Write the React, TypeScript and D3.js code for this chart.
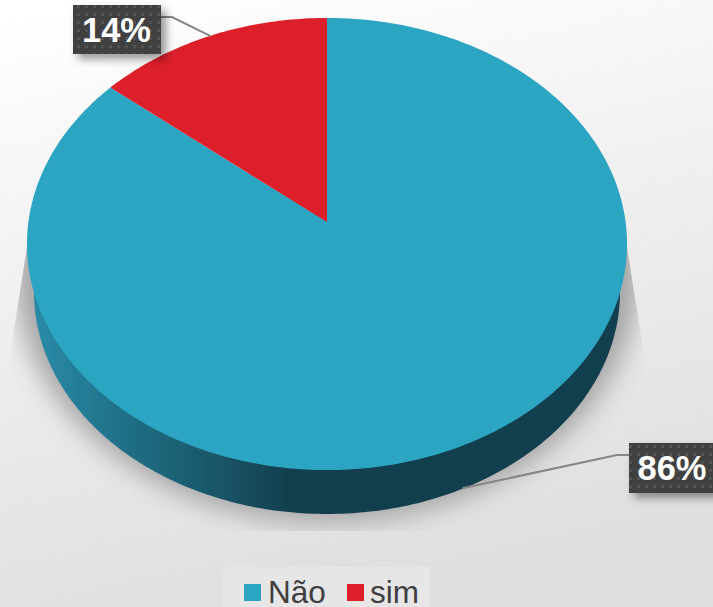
import React from "react";
import * as d3 from "d3";

const categories = ["Não", "sim"];
const values = [86, 14];
const labels = ["86%", "14%"];
const colors = ["#2ca5c3", "#dd1f2a"];

const W = 713, H = 607;
const CX = 327, APEX_Y = 222;
const K = -0.0973, AX = 298.6, AY = 223.9, DEPTH = 44;

function project(angle: number, r = 1): [number, number] {
  const u = Math.sin(angle) * r, v = -Math.cos(angle) * r;
  const d = 1 + K * v;
  return [CX + (AX * u) / d, APEX_Y + (AY * v) / d];
}
const sliceGen = d3.pie<number>().sort(null);
const slices = sliceGen(values);
const line = d3.line();

function slicePath(a0: number, a1: number) {
  const n = Math.max(2, Math.ceil((a1 - a0) * 60));
  const pts: [number, number][] = [[CX, APEX_Y]];
  for (let i = 0; i <= n; i++) pts.push(project(a0 + ((a1 - a0) * i) / n));
  return line(pts) + "Z";
}

const BOTC = 292, BOTRX = 293, BOTRY = 222;
function sidePath() {
  const a: [number, number][] = [];
  for (let i = 0; i <= 180; i++) {
    const t = (i * Math.PI) / 180;
    a.push([CX + BOTRX * Math.cos(t), BOTC + BOTRY * Math.sin(t)]);
  }
  return line(a) + "L" + (CX - BOTRX) + "," + BOTC + "L27,244L627,244L" + (CX + BOTRX) + "," + BOTC + "Z";
}

const mid = (s: d3.PieArcDatum<number>) => (s.startAngle + s.endAngle) / 2;
const nearAnchor = project(mid(slices[0]));
const farAnchor = project(mid(slices[1]));

const font = "'Liberation Sans', Arial, sans-serif";

export default function App() {
  return (
    <svg width={W} height={H} viewBox={`0 0 ${W} ${H}`} style={{ position: "absolute", left: 0, top: 0, display: "block" }}>
      <defs>
        <linearGradient id="bg" x1="0.1" y1="0" x2="0.35" y2="1">
          <stop offset="0" stopColor="#ffffff" />
          <stop offset="0.45" stopColor="#f0f0f0" />
          <stop offset="1" stopColor="#dfdfdf" />
        </linearGradient>
        <linearGradient id="side" gradientUnits="userSpaceOnUse" x1="34" y1="0" x2="290" y2="0">
          <stop offset="0" stopColor="#2a8ba8" />
          <stop offset="0.35" stopColor="#1f7087" />
          <stop offset="0.7" stopColor="#195768" />
          <stop offset="1" stopColor="#123f4e" />
        </linearGradient>
        <filter id="blur" x="-20%" y="-20%" width="140%" height="140%">
          <feGaussianBlur stdDeviation="13" />
        </filter>
        <filter id="labelShadow" x="-20%" y="-20%" width="150%" height="160%">
          <feDropShadow dx="5" dy="5" stdDeviation="4" floodColor="#000" floodOpacity="0.4" />
        </filter>
        <clipPath id="shadowClip">
          <polygon points="36,190 618,190 648,380 648,531 6,531 6,380" />
        </clipPath>
        <pattern id="dots" width="8" height="8" patternUnits="userSpaceOnUse" x="3" y="3">
          <rect width="8" height="8" fill="#404040" />
          <rect x="2" y="2" width="3" height="3" fill="#515151" />
        </pattern>
      </defs>
      <rect width={W} height={H} fill="url(#bg)" />

      <g clipPath="url(#shadowClip)">
        <ellipse cx={CX} cy={272} rx={312} ry={250} fill="#9c9c9c" filter="url(#blur)" opacity={0.9} />
      </g>

      <path d={sidePath()} fill="url(#side)" />
      <g>
        {slices.map((s, i) => (
          <path key={categories[i]} d={slicePath(s.startAngle, s.endAngle)} fill={colors[i]} />
        ))}
      </g>

      <g fill="none" stroke="#868686" strokeWidth={2}>
        <polyline points={`${farAnchor[0]},${farAnchor[1]} 172,17 161,17`} />
        <polyline points={`${nearAnchor[0] - 4},${nearAnchor[1] + DEPTH} 617,455 629,455`} />
      </g>

      <g filter="url(#labelShadow)">
        <rect x={73} y={5} width={88} height={49} fill="url(#dots)" />
        <rect x={629} y={443} width={90} height={50} fill="url(#dots)" />
      </g>
      <g fontFamily={font} fontWeight="bold" fontSize={34.5} fill="#fff" textAnchor="middle">
        <text x={116.5} y={42}>{labels[1]}</text>
        <text x={672} y={480}>{labels[0]}</text>
      </g>

      <rect x={223} y={567} width={207} height={40} fill="#e6e6e6" />
      <g fontFamily={font} fontSize={31.5} fill="#404040">
        <rect x={244} y={584} width={17} height={17} fill={colors[0]} />
        <text x={268} y={603}>{categories[0]}</text>
        <rect x={347} y={584} width={17} height={17} fill={colors[1]} />
        <text x={370} y={603}>{categories[1]}</text>
      </g>
    </svg>
  );
}
